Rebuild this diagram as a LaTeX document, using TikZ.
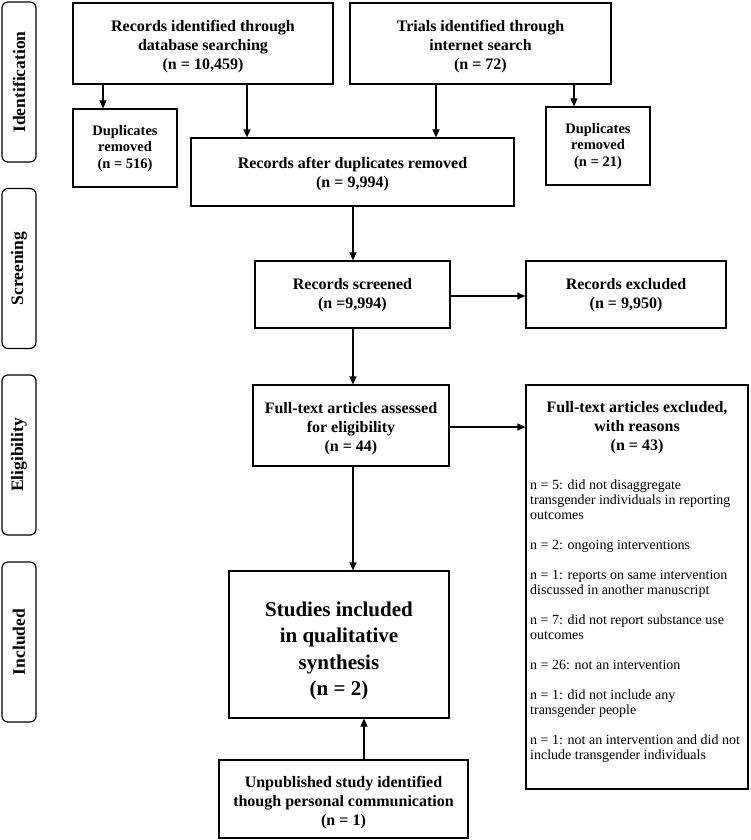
\documentclass[tikz,border=0pt]{standalone}
\usepackage{fontspec}
\setmainfont{Liberation Serif}
\usetikzlibrary{arrows.meta}
\begin{document}
\begin{tikzpicture}[x=1pt,y=-1pt,
  frame/.style={draw, line width=1.2pt, inner sep=0pt},
  boxtext/.style={inner sep=0pt, align=center, font=\bfseries\fontsize{16}{19}\selectfont},
  duptext/.style={boxtext, font=\bfseries\fontsize{14.5}{16.5}\selectfont},
  bigtext/.style={boxtext, font=\bfseries\fontsize{21}{26.5}\selectfont},
  side/.style={draw, line width=1.2pt, rounded corners=6pt, rotate=90, minimum width=160pt, minimum height=34pt, inner sep=0pt, font=\bfseries\fontsize{17.5}{20}\selectfont},
  arr/.style={line width=1.2pt, -{Triangle[length=8pt,width=7pt]}},
  listtext/.style={inner sep=0pt, align=left, anchor=north west, font=\fontsize{14}{15}\selectfont},
]
\useasboundingbox (0,0) rectangle (750,840);
% phase labels
\node[side] (sid) at (19,82) {Identification};
\node[side] (sscr) at (19,268.5) {Screening};
\node[side] (seli) at (19,455) {Eligibility};
\node[side] (sinc) at (19,642) {Included};
% box frames
\node[frame, minimum width=260pt, minimum height=81pt] (recdb) at (203,43.5) {};
\node[frame, minimum width=261pt, minimum height=81pt] (trials) at (480.5,43.5) {};
\node[frame, minimum width=104pt, minimum height=78pt] (dup1) at (125,148) {};
\node[frame, minimum width=104pt, minimum height=78pt] (dup2) at (598,146) {};
\node[frame, minimum width=323pt, minimum height=68pt] (after) at (352.5,172) {};
\node[frame, minimum width=195pt, minimum height=67pt] (screened) at (352.5,294.5) {};
\node[frame, minimum width=200pt, minimum height=67pt] (excl) at (626,294.5) {};
\node[frame, minimum width=196pt, minimum height=81pt] (full) at (351,425.5) {};
\node[frame, minimum width=222pt, minimum height=404pt] (reasons) at (637,587) {};
\node[frame, minimum width=220pt, minimum height=147pt] (studies) at (339,644.5) {};
\node[frame, minimum width=249pt, minimum height=78pt] (unpub) at (343.5,799) {};
% box texts
\node[boxtext] (recdbtext) at (203,46.5) {Records identified through\\database searching\\(n = 10,459)};
\node[boxtext] (trialstext) at (480.5,46.5) {Trials identified through\\internet search\\(n = 72)};
\node[duptext] (dup1text) at (125,148.5) {Duplicates\\removed\\(n = 516)};
\node[duptext] (dup2text) at (598,146.5) {Duplicates\\removed\\(n = 21)};
\node[boxtext] (aftertext) at (352.5,174) {Records after duplicates removed\\(n = 9,994)};
\node[boxtext] (screenedtext) at (352.5,295.5) {Records screened\\(n =9,994)};
\node[boxtext] (excltext) at (626,295.5) {Records excluded\\(n = 9,950)};
\node[boxtext] (fulltext) at (351,428.5) {Full-text articles assessed\\for eligibility\\(n = 44)};
\node[boxtext] (reasonshead) at (637,428) {Full-text articles excluded,\\with reasons\\(n = 43)};
\node[listtext] (reasonslist) at (530,480) {n = 5: did not disaggregate\\transgender individuals in reporting\\outcomes\\[15pt]
n = 2: ongoing interventions\\[15pt]
n = 1: reports on same intervention\\discussed in another manuscript\\[15pt]
n = 7: did not report substance use\\outcomes\\[15pt]
n = 26: not an intervention\\[15pt]
n = 1: did not include any\\transgender people\\[15pt]
n = 1: not an intervention and did not\\include transgender individuals};
\node[bigtext] (studiestext) at (339,651) {Studies included\\in qualitative\\synthesis\\(n = 2)};
\node[boxtext] (unpubtext) at (343.5,802.5) {Unpublished study identified\\though personal communication\\(n = 1)};
% connector positions
\coordinate (xa) at (103,0);
\coordinate (xb) at (247,0);
\coordinate (xc) at (436,0);
\coordinate (xd) at (574,0);
\coordinate (xm) at (353,0);
\coordinate (xu) at (364,0);
\coordinate (ys) at (0,296);
\coordinate (yf) at (0,427);
% connectors
\draw[arr] (recdb.south -| xa) -- (dup1.north -| xa);
\draw[arr] (recdb.south -| xb) -- (after.north -| xb);
\draw[arr] (trials.south -| xc) -- (after.north -| xc);
\draw[arr] (trials.south -| xd) -- (dup2.north -| xd);
\draw[arr] (after.south -| xm) -- (screened.north -| xm);
\draw[arr] (screened.east |- ys) -- (excl.west |- ys);
\draw[arr] (screened.south -| xm) -- (full.north -| xm);
\draw[arr] (full.east |- yf) -- (reasons.west |- yf);
\draw[arr] (full.south -| xm) -- (studies.north -| xm);
\draw[arr] (unpub.north -| xu) -- (studies.south -| xu);
\end{tikzpicture}
\end{document}
